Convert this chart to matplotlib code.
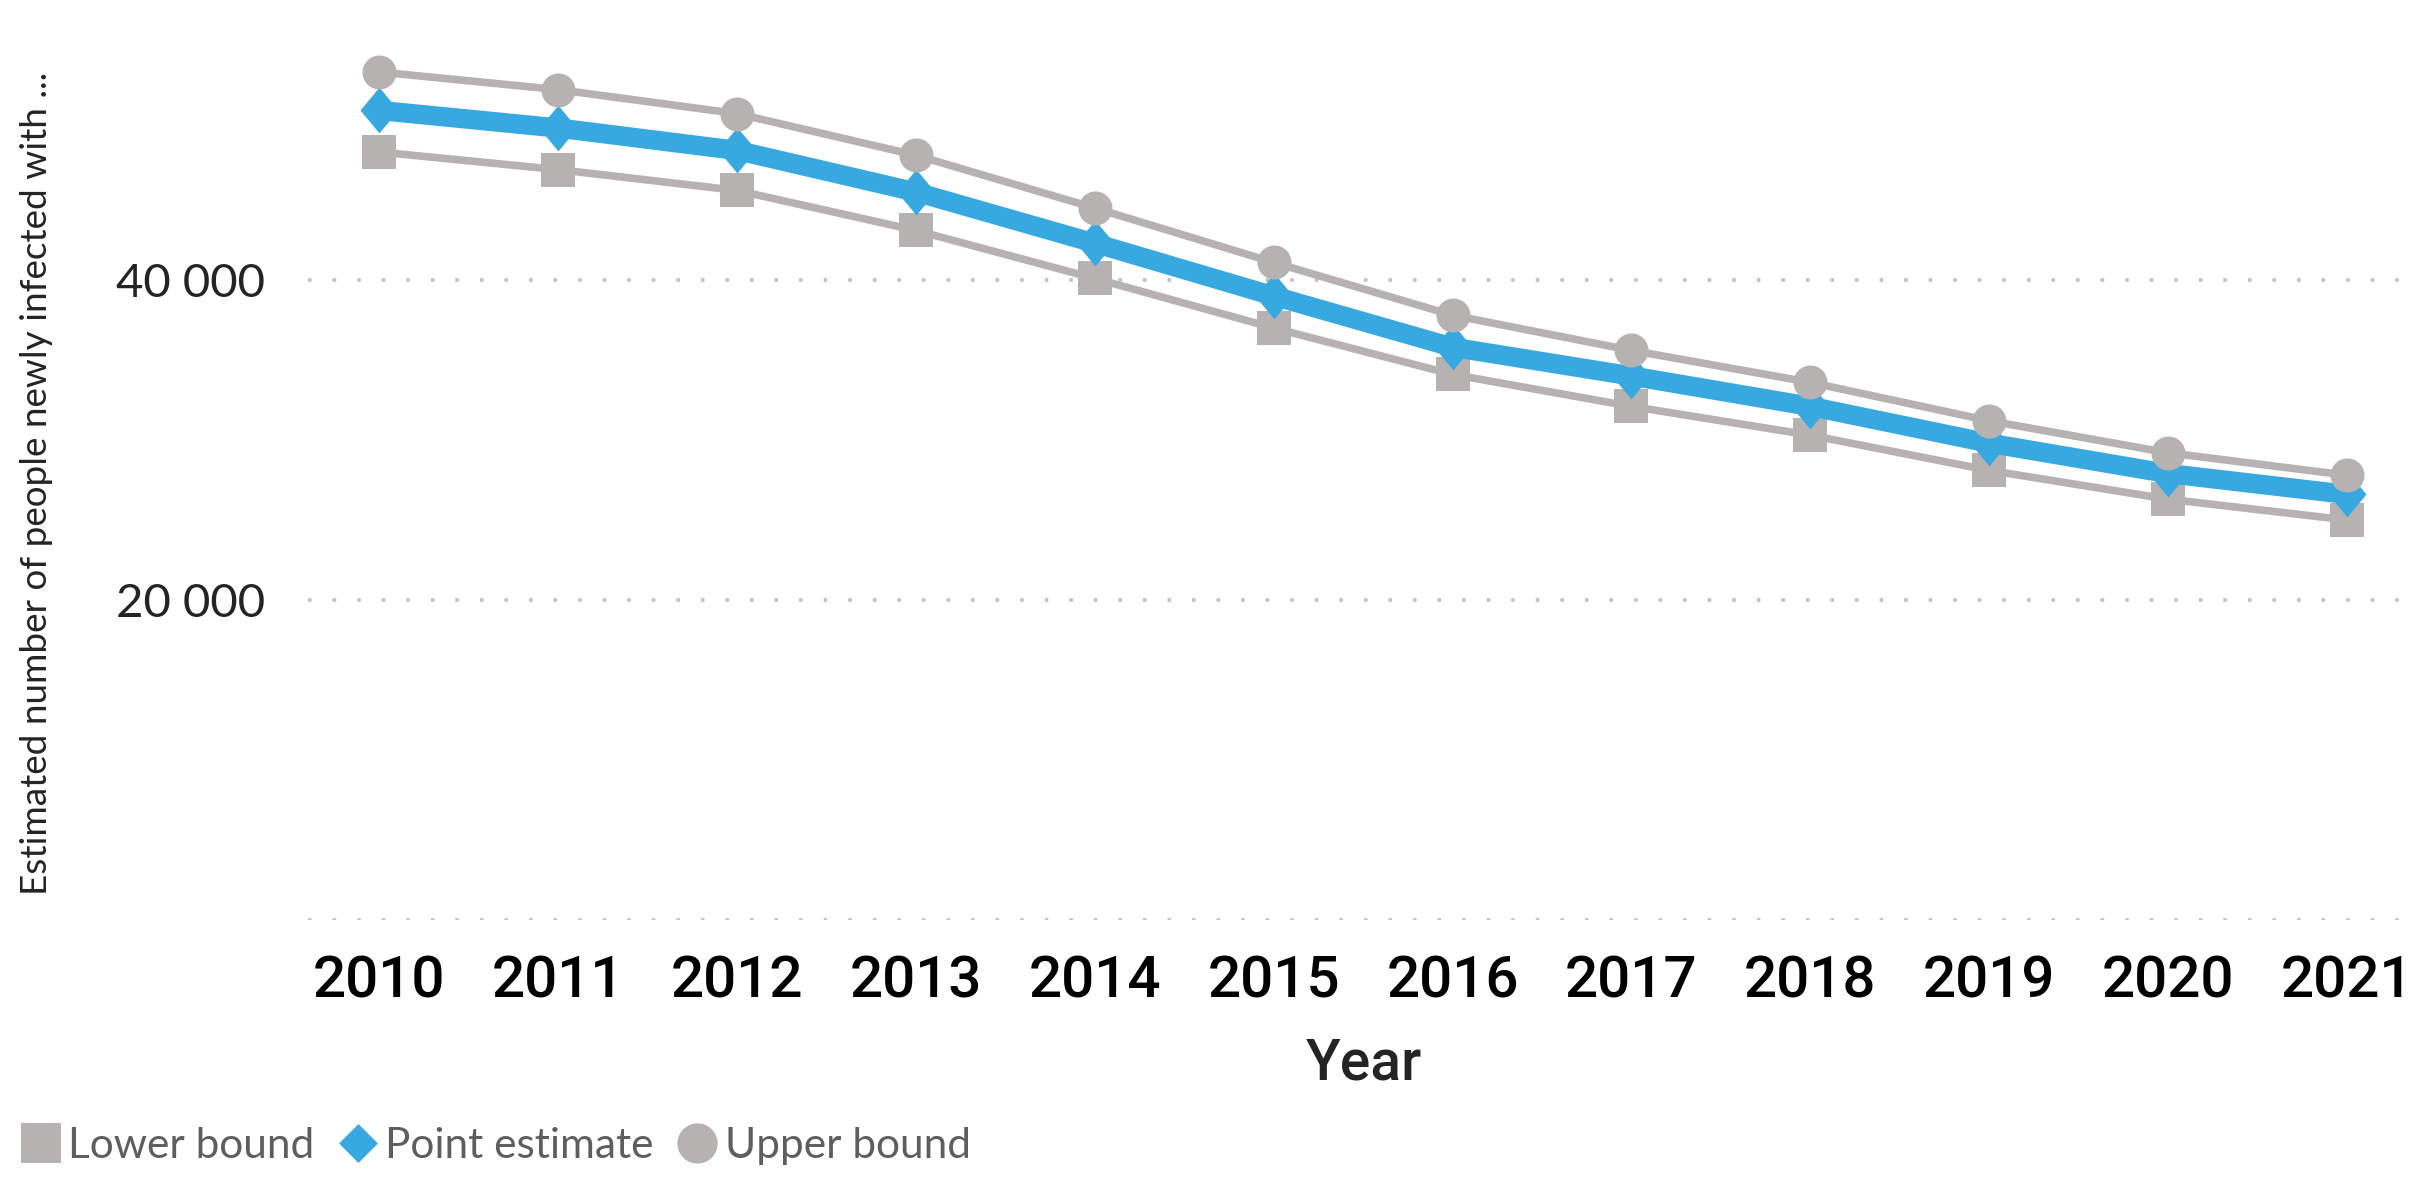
import matplotlib
matplotlib.use("Agg")
import matplotlib.pyplot as plt
from matplotlib.lines import Line2D
from matplotlib.ticker import FixedLocator

years = [2010, 2011, 2012, 2013, 2014, 2015, 2016, 2017, 2018, 2019, 2020, 2021]
upper_bound = [53000, 51900, 50400, 47800, 44500, 41100, 37800, 35600, 33600, 31200, 29200, 27800]
point_estimate = [50600, 49500, 48100, 45500, 42300, 39000, 35800, 34000, 32100, 29800, 27900, 26600]
lower_bound = [48000, 46900, 45600, 43100, 40100, 37000, 34100, 32100, 30300, 28100, 26300, 25000]

y_ticks = [0, 20000, 40000]
y_tick_labels = ["", "20 000", "40 000"]

blue = "#38A9E0"
grey = "#B7B2B2"
text_dark = "#252423"
legend_grey = "#605E5C"

plt.rcParams["font.family"] = ["Lato", "DejaVu Sans"]

fig = plt.figure(figsize=(24.14, 11.99), dpi=100)
ax = fig.add_axes([308 / 2414, 1 - 920 / 1199, 2094 / 2414, 920 / 1199])

# tall diamond like the reference
tall_diamond = [(0, 1), (0.83, 0), (0, -1), (-0.83, 0), (0, 1)]
diamond = [(0, 1), (1, 0), (0, -1), (-1, 0), (0, 1)]

ax.plot(years, lower_bound, color=grey, lw=5.5, marker="s", ms=24.5,
        markeredgewidth=0, zorder=2)
ax.plot(years, point_estimate, color=blue, lw=14, marker=tall_diamond, ms=33,
        markeredgewidth=0, zorder=3)
ax.plot(years, upper_bound, color=grey, lw=5.5, marker="o", ms=24.5,
        markeredgewidth=0, zorder=4)

ax.set_xlim(2009.603, 2021.307)
ax.set_ylim(0, 57500)
ax.set_xticks(years)
ax.set_xticklabels([str(y) for y in years], fontsize=42, color="black",
                   family=["Roboto", "DejaVu Sans"], fontweight="medium")
ax.yaxis.set_major_locator(FixedLocator(y_ticks))
ax.set_yticklabels(y_tick_labels, fontsize=34, color=text_dark)
ax.tick_params(axis="x", length=0, pad=25)
ax.tick_params(axis="y", length=0, pad=31)

ax.yaxis.grid(True, color="#C4C2C0", lw=2.6, linestyle=(0, (1, 5.8)))
ax.set_axisbelow(True)
for s in ax.spines.values():
    s.set_visible(False)

fig.text(1364 / 2414, 1 - 1080 / 1199, "Year", fontsize=41, color=text_dark,
         ha="center", va="baseline", family=["Roboto", "DejaVu Sans"], fontweight="medium")
fig.text(37 / 2414, 1 - 483 / 1199, "Estimated number of people newly infected with ...",
         fontsize=26.6, color=text_dark, rotation=90, ha="center", va="center")

legend_elements = [
    Line2D([0], [0], marker="s", color="w", label="Lower bound", markerfacecolor=grey,
           markeredgewidth=0, markersize=29),
    Line2D([0], [0], marker=diamond, color="w", label="Point estimate", markerfacecolor=blue,
           markeredgewidth=0, markersize=28),
    Line2D([0], [0], marker="o", color="w", label="Upper bound", markerfacecolor=grey,
           markeredgewidth=0, markersize=29),
]
leg = fig.legend(handles=legend_elements, loc="center left",
                 bbox_to_anchor=(21 / 2414, 1 - 1146 / 1199), ncol=3, frameon=False,
                 fontsize=30.5, handlelength=0.95, handletextpad=0.17, columnspacing=0.55,
                 borderpad=0, borderaxespad=0)
for t in leg.get_texts():
    t.set_color(legend_grey)

fig.savefig("out.png", dpi=100, facecolor="white")
